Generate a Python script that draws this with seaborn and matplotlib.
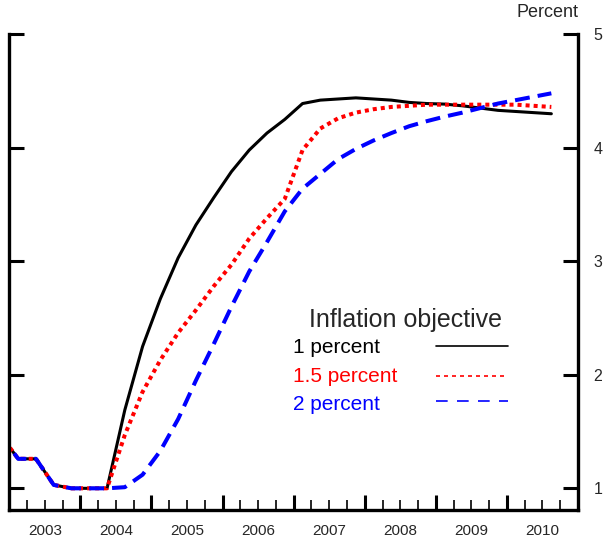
import numpy as np
import pandas as pd
import matplotlib
matplotlib.use("Agg")
import matplotlib.pyplot as plt
import seaborn as sns
from matplotlib.lines import Line2D

# Quarterly path of the policy rate under three inflation objectives
quarters = pd.period_range("2002Q4", "2010Q3", freq="Q")

rate_1pct = [1.47, 1.26, 1.26, 1.03, 1.00, 1.00, 1.00,
             1.69, 2.25, 2.67, 3.03, 3.32, 3.56, 3.79, 3.98, 4.13, 4.25,
             4.39, 4.42, 4.43, 4.44, 4.43, 4.42, 4.40, 4.39, 4.385, 4.37,
             4.35, 4.33, 4.32, 4.31, 4.30]
rate_15pct = [1.47, 1.26, 1.26, 1.03, 1.00, 1.00, 1.00,
              1.47, 1.85, 2.13, 2.37, 2.57, 2.78, 2.97, 3.20, 3.38, 3.55,
              3.98, 4.17, 4.26, 4.31, 4.34, 4.36, 4.37, 4.38, 4.38, 4.38,
              4.38, 4.38, 4.38, 4.37, 4.36]
rate_2pct = [1.47, 1.26, 1.26, 1.03, 1.00, 1.00, 1.00,
             1.01, 1.12, 1.33, 1.61, 1.95, 2.27, 2.60, 2.91, 3.17, 3.44,
             3.64, 3.77, 3.90, 3.99, 4.065, 4.13, 4.19, 4.235, 4.275, 4.31,
             4.35, 4.39, 4.42, 4.45, 4.48]

series_labels = ["1 percent", "1.5 percent", "2 percent"]
series_colors = ["#000000", "#FF0000", "#0000FF"]
year_labels = [2003, 2004, 2005, 2006, 2007, 2008, 2009, 2010]
y_ticks = [1, 2, 3, 4, 5]

sns.set_style("white")
plt.rcParams["font.family"] = ["Liberation Sans", "DejaVu Sans"]

# mid-quarter position on a decimal-year axis
x = quarters.year + (quarters.quarter - 0.5) / 4.0
df = pd.DataFrame({"date": x,
                   series_labels[0]: rate_1pct,
                   series_labels[1]: rate_15pct,
                   series_labels[2]: rate_2pct})

fig = plt.figure(figsize=(6.05, 5.43), dpi=100)
W, H = 605.0, 543.0
ax_l, ax_r, ax_b, ax_t = 9.3, 578.0, 510.0, 34.3
ax = fig.add_axes([ax_l / W, (H - ax_b) / H, (ax_r - ax_l) / W, (ax_b - ax_t) / H])

line_styles = [
    dict(lw=2.2, linestyle="-"),
    dict(lw=2.9, linestyle=(0, (1.0, 1.0))),
    dict(lw=2.9, linestyle=(0, (3.7, 2.0))),
]
for label, color, st in zip(series_labels, series_colors, line_styles):
    sns.lineplot(data=df, x="date", y=label, ax=ax, color=color,
                 legend=False, **st)

ax.set_xlim(year_labels[0], year_labels[-1] + 1)
ax.set_ylim(0.809, 5)
ax.set_xlabel("")
ax.set_ylabel("")

for side in ["left", "right", "bottom"]:
    ax.spines[side].set_linewidth(2.4)
    ax.spines[side].set_color("black")
ax.spines["top"].set_visible(False)

# x axis: year boundaries as major ticks, quarters as minor ticks
ax.set_xticks(year_labels[1:])
quarter_edges = [y + q / 4.0 for y in year_labels for q in (1, 2, 3)]
ax.set_xticks(quarter_edges, minor=True)
ax.tick_params(axis="x", which="major", direction="in", length=10.8,
               width=2.2, color="black", labelbottom=False, bottom=True)
ax.tick_params(axis="x", which="minor", direction="in", length=7.2,
               width=1.2, color="black", bottom=True)

# year names centred under each year
sec = ax.secondary_xaxis("bottom")
sec.set_xticks([y + 0.5 for y in year_labels], [str(y) for y in year_labels])
sec.tick_params(length=0, pad=9.8, labelsize=11)
sec.spines["bottom"].set_visible(False)

# y axis: ticks on both sides, labels on the right
ax.set_yticks(y_ticks)
ax.set_yticks([y_ticks[-1]], minor=True)
ax.tick_params(axis="y", which="major", direction="in", length=10.8,
               width=2.2, color="black", left=True, right=True,
               labelleft=False, labelright=True, pad=11, labelsize=11.5)
ax.tick_params(axis="y", which="minor", direction="in", length=21.6,
               width=2.2, color="black", left=True, right=True,
               labelleft=False, labelright=False)

ax.annotate("Percent", xy=(1, 1), xycoords="axes fraction",
            xytext=(0, 12.4), textcoords="offset points",
            ha="right", va="baseline", fontsize=13)

# legend block
ax.text(0.527, 0.3853, "Inflation objective", transform=ax.transAxes,
        fontsize=18, ha="left", va="baseline")
label_y = [0.3294, 0.2697, 0.2102]
key_y = [0.3454, 0.2823, 0.2291]
key_styles = [
    dict(lw=1.2, linestyle="-"),
    dict(lw=1.2, linestyle=(0, (2.4, 2.4))),
    dict(lw=1.2, linestyle=(0, (7.0, 5.6))),
]
for label, color, ly, ky, ks in zip(series_labels, series_colors,
                                    label_y, key_y, key_styles):
    ax.text(0.4985, ly, label, transform=ax.transAxes, fontsize=15,
            color=color, ha="left", va="baseline")
    ax.add_line(Line2D([0.7503, 0.8768], [ky, ky], transform=ax.transAxes,
                       color=color, **ks))

fig.savefig("out.png", dpi=100)
